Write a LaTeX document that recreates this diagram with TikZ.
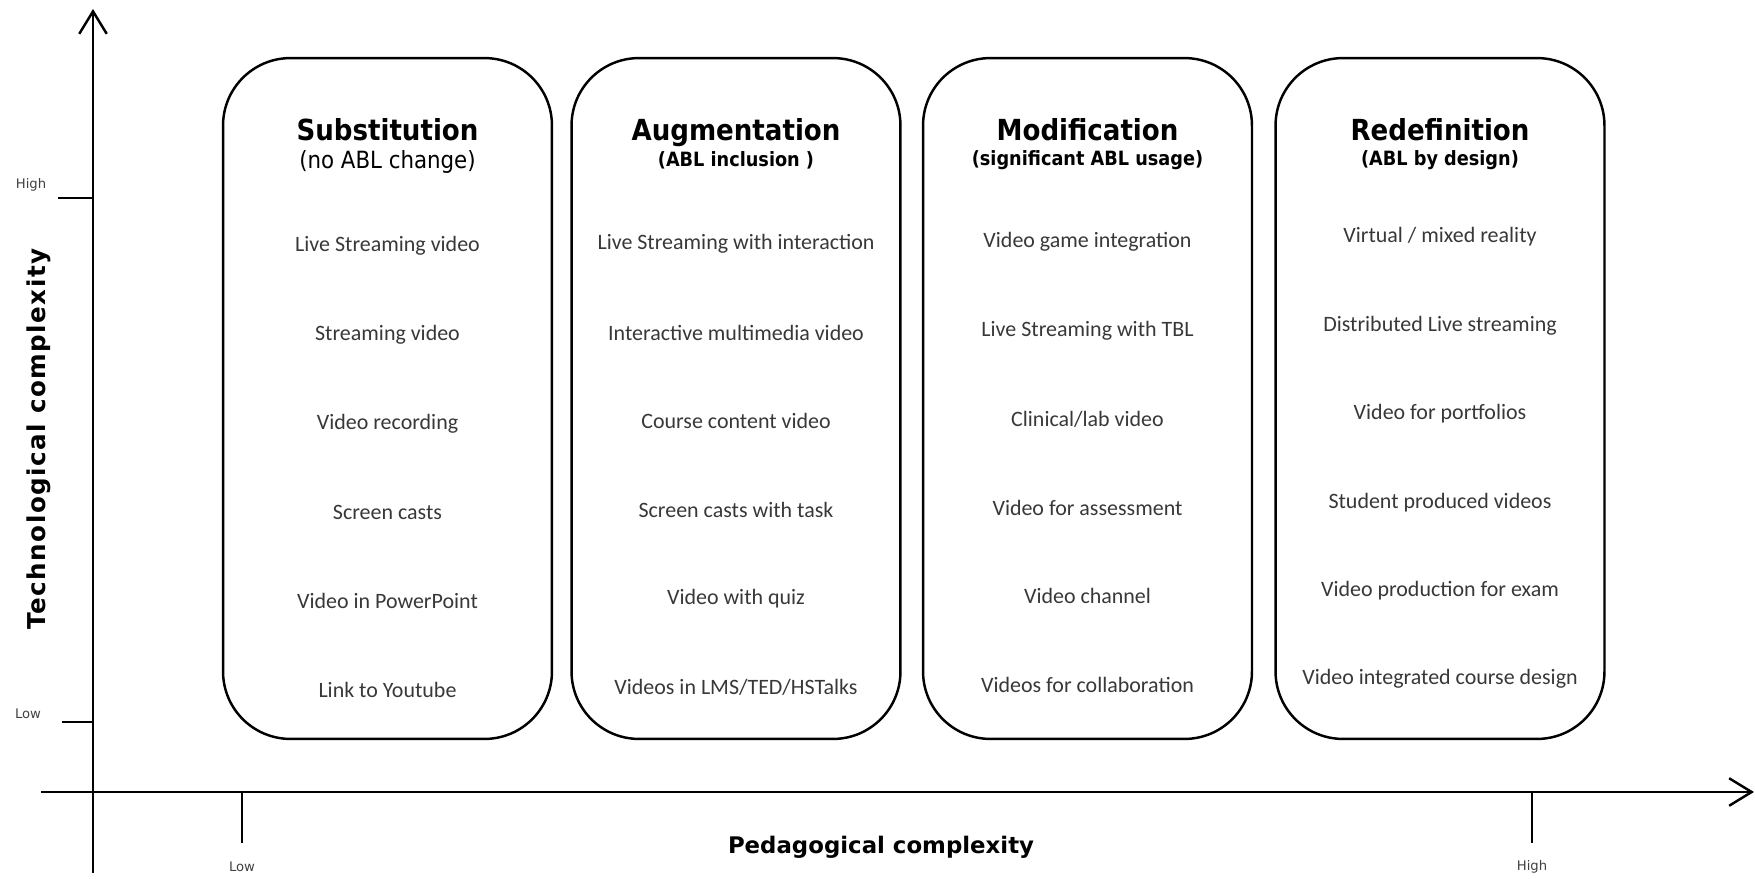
\documentclass[tikz,border=0pt]{standalone}
\usepackage{fontspec}
\setmainfont{DejaVu Sans}
\newfontfamily\headfont{DejaVu Sans Condensed}[BoldFont={DejaVu Sans Condensed Bold}]
\newfontfamily\itemfont{Carlito}
\newfontfamily\widefont{DejaVu Sans}[LetterSpace=6]
\usetikzlibrary{arrows.meta, positioning}

\begin{document}
\begin{tikzpicture}[x=0.02cm, y=-0.02cm,
    phase/.style={draw, line width=1.4pt, rectangle, rounded corners=1.35cm, minimum width=6.58cm, minimum height=13.62cm},
    heading/.style={font=\headfont\bfseries\fontsize{16.5}{18}\selectfont, anchor=base},
    subhead/.style={font=\headfont\bfseries\fontsize{11.2}{13}\selectfont},
    entry/.style={font=\itemfont\fontsize{12.5}{14}\selectfont, text=black!78},
    axis/.style={line width=1.6pt},
    ticklabel/.style={font=\fontsize{7.5}{9}\selectfont, text=black!75},
    axislabel/.style={font=\bfseries\fontsize{13}{15}\selectfont}]

    \useasboundingbox (0,0) rectangle (1755,879);

    % Axes
    \coordinate (ybottom) at (93,873);
    \coordinate (ytop) at (93,9);
    \coordinate (xleft) at (41,792);
    \coordinate (xright) at (1754,792);
    \draw[axis, -{Straight Barb[length=0.45cm, width=0.55cm, line width=1.4pt]}] (ybottom) -- (ytop);
    \draw[axis, -{Straight Barb[length=0.45cm, width=0.55cm, line width=1.4pt]}] (xleft) -- (xright);

    % Ticks
    \coordinate (yhigh) at (93,198);
    \coordinate (yhigh-end) at (58,198);
    \coordinate (ylow) at (93,722);
    \coordinate (ylow-end) at (62,722);
    \coordinate (xlow) at (242,792);
    \coordinate (xlow-end) at (242,843);
    \coordinate (xhigh) at (1532,792);
    \coordinate (xhigh-end) at (1532,843);
    \draw[axis] (yhigh) -- (yhigh-end);
    \draw[axis] (ylow) -- (ylow-end);
    \draw[axis] (xlow) -- (xlow-end);
    \draw[axis] (xhigh) -- (xhigh-end);
    \node[ticklabel] (yhigh-lbl) at (31,185) {High};
    \node[ticklabel] (ylow-lbl) at (28,714) {Low};
    \node[ticklabel] (xlow-lbl) at (242,867) {Low};
    \node[ticklabel] (xhigh-lbl) at (1532,867) {High};

    \node[font=\widefont\bfseries\fontsize{14}{16}\selectfont, rotate=90] (ylabel) at (39,439) {Technological complexity};
    \node[axislabel] (xlabel) at (881,847) {Pedagogical complexity};

    % Phases
    \node[phase] (subst) at (387.5,398.5) {};
    \node[phase] (augm) at (736,398.5) {};
    \node[phase] (modif) at (1087.5,398.5) {};
    \node[phase] (redef) at (1440,398.5) {};

    \node[heading] (subst-title) at (387.5,140) {Substitution};
    \node[heading] (augm-title) at (736,140) {Augmentation};
    \node[heading] (modif-title) at (1087.5,140) {Modification};
    \node[heading] (redef-title) at (1440,140) {Redefinition};

    \node[font=\headfont\fontsize{13.5}{15}\selectfont] (subst-sub) at (387.5,162) {(no ABL change)};
    \node[subhead] (augm-sub) at (736,160) {(ABL inclusion )};
    \node[subhead] (modif-sub) at (1087.5,160) {(significant ABL usage)};
    \node[subhead] (redef-sub) at (1440,160) {(ABL by design)};

    % Entries
    \foreach \txt [count=\i from 0] in {Live Streaming video, Streaming video, Video recording, Screen casts, Video in PowerPoint, Link to Youtube}
        \node[entry] (subst-\i) at (387.5,{246+88.8*\i}) {\txt};
    \foreach \txt [count=\i from 0] in {Live Streaming with interaction, Interactive multimedia video, Course content video, Screen casts with task, Video with quiz, Videos in LMS/TED/HSTalks}
        \node[entry] (augm-\i) at (736,{244+88.6*\i}) {\txt};
    \foreach \txt [count=\i from 0] in {Video game integration, Live Streaming with TBL, Clinical/lab video, Video for assessment, Video channel, Videos for collaboration}
        \node[entry] (modif-\i) at (1087.5,{242+88.5*\i}) {\txt};
    \foreach \txt [count=\i from 0] in {Virtual / mixed reality, Distributed Live streaming, Video for portfolios, Student produced videos, Video production for exam, Video integrated course design}
        \node[entry] (redef-\i) at (1440,{237+88.4*\i}) {\txt};
\end{tikzpicture}
\end{document}
